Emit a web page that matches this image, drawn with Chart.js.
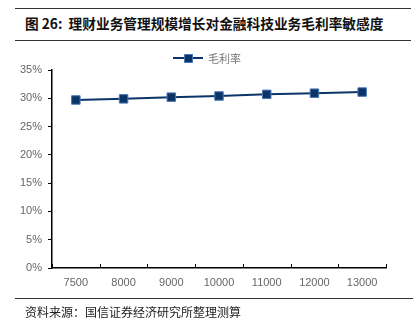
<!DOCTYPE html>
<html>
<head>
<meta charset="utf-8">
<script src="https://cdn.jsdelivr.net/npm/chart.js@4.4.0/dist/chart.umd.min.js"></script>
<style>
  html, body { margin: 0; padding: 0; background: #fff; }
  #wrap { position: relative; width: 417px; height: 333px; overflow: hidden; }
  #c { position: absolute; left: 0; top: 0; }
  .rule { position: absolute; left: 15px; width: 396px; height: 0; border-top: 1.5px solid #333; }
  #title { position: absolute; left: 25px; top: 13px; font: bold 13.7px "Noto Sans CJK SC", sans-serif; color: #111; white-space: nowrap; }
  #source { position: absolute; left: 25px; top: 303px; font: 12px "Noto Sans CJK SC", sans-serif; color: #222; white-space: nowrap; }
  #legend { position: absolute; left: 173px; top: 50px; height: 16px; white-space: nowrap; }
  #legend .ln { position: absolute; left: 0; top: 7px; width: 30px; height: 2px; background: #0b3568; }
  #legend .mk { position: absolute; left: 11px; top: 4px; width: 7px; height: 7px; background: #0a3366; border: 1px solid #4a78b8; }
  #legend .tx { position: absolute; left: 35px; top: 0; font: 11px "Noto Sans CJK SC", sans-serif; color: #777; }
</style>
</head>
<body>
<div id="wrap">
  <div class="rule" style="top:8px"></div>
  <div id="title">图 26:&nbsp;&nbsp;理财业务管理规模增长对金融科技业务毛利率敏感度</div>
  <div class="rule" style="top:40px"></div>
  <canvas id="c" width="417" height="333"></canvas>
  <div id="legend"><div class="ln"></div><div class="mk"></div><div class="tx">毛利率</div></div>
  <div class="rule" style="top:298px; width:398px"></div>
  <div id="source">资料来源：国信证券经济研究所整理测算</div>
</div>
<script>
// 理财业务管理规模 (categories) vs 毛利率 (%)
const categories = ['7500', '8000', '9000', '10000', '11000', '12000', '13000'];
const grossMargin = [29.7, 29.9, 30.2, 30.4, 30.7, 30.9, 31.1];
const seriesName = '毛利率';
const yMax = 35;
const yStep = 5;

// inward (upward) tick marks on the x axis, at category boundaries
const xTicksUp = {
  id: 'xTicksUp',
  afterDraw(chart) {
    const ctx = chart.ctx;
    const x = chart.scales.x;
    const bottom = chart.chartArea.bottom;
    ctx.save();
    ctx.strokeStyle = '#000';
    ctx.lineWidth = 1;
    ctx.beginPath();
    for (let i = 0; i <= categories.length; i++) {
      const px = Math.round(x.getPixelForValue(i - 0.5)) + 0.5;
      ctx.moveTo(px, bottom);
      ctx.lineTo(px, bottom - 4);
    }
    ctx.stroke();
    ctx.restore();
  }
};

const ctx = document.getElementById('c').getContext('2d');
new Chart(ctx, {
  type: 'line',
  data: {
    labels: categories,
    datasets: [{
      label: seriesName,
      data: grossMargin,
      borderColor: '#0b3568',
      borderWidth: 2,
      backgroundColor: '#0a3366',
      pointStyle: 'rect',
      pointRadius: 6,
      pointBorderColor: '#4a78b8',
      pointBorderWidth: 1,
      pointBackgroundColor: '#0a3366',
      tension: 0
    }]
  },
  options: {
    responsive: false,
    animation: false,
    layout: { padding: { top: 70, right: 31, bottom: 40, left: 0 } },
    plugins: {
      legend: { display: false },
      tooltip: { enabled: false }
    },
    scales: {
      x: {
        offset: true,
        grid: { display: true, drawOnChartArea: false, drawTicks: false, offset: true },
        border: { display: true, color: '#000', width: 1.5 },
        ticks: { color: '#666', padding: 8, font: { family: 'Liberation Sans', size: 11 }, maxRotation: 0 },
        afterFit(s) { s.height = 25; }
      },
      y: {
        min: 0,
        max: yMax,
        ticks: {
          stepSize: yStep,
          color: '#666',
          padding: 6,
          font: { family: 'Liberation Sans', size: 11 },
          callback: v => v + '%'
        },
        grid: { drawOnChartArea: false, drawTicks: true, tickLength: 4, color: '#000' },
        border: { display: true, color: '#000', width: 1.5 },
        afterFit(s) { s.width = 52; }
      }
    }
  },
  plugins: [xTicksUp]
});
</script>
</body>
</html>
